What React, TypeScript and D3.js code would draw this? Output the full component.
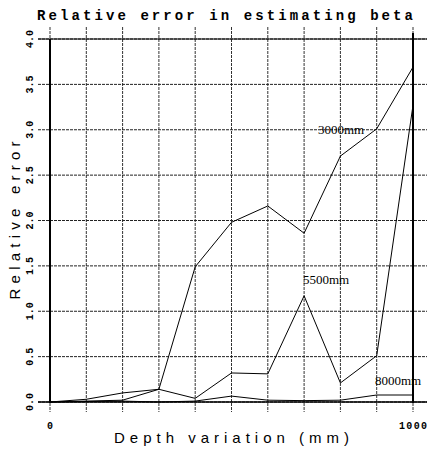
import React from 'react';
import * as d3 from 'd3';

const depths = [0, 100, 200, 300, 400, 500, 600, 700, 800, 900, 1000];
const err3000 = [0, 0.01, 0.02, 0.14, 1.49, 1.98, 2.16, 1.86, 2.71, 3.01, 3.69];
const err5500 = [0, 0.03, 0.1, 0.14, 0.04, 0.32, 0.31, 1.17, 0.21, 0.51, 3.27];
const err8000 = [0, 0.005, 0.01, 0.0, 0.01, 0.065, 0.02, 0.015, 0.02, 0.077, 0.077];
const seriesNames = ['3000mm', '5500mm', '8000mm'];
const yTicks = [0, 0.5, 1, 1.5, 2, 2.5, 3, 3.5, 4];
const yTickLabels = ['0.0', '0.5', '1.0', '1.5', '2.0', '2.5', '3.0', '3.5', '4.0'];
const xTickValues = [0, 1000];
const xTickLabels = ['0', '1000'];
const titleText = 'Relative error in estimating beta';
const xTitle = 'Depth variation (mm)';
const yTitle = 'Relative error';

const W = 427;
const H = 451;
const L = 50, R = 413, T = 39, B = 402;

export default function App() {
  const x = d3.scaleLinear().domain([0, 1000]).range([L, R]);
  const y = d3.scaleLinear().domain([0, 4]).range([B, T]);
  const line = d3
    .line<number>()
    .x((_, i) => x(depths[i]))
    .y((d) => y(d));
  const series = [err3000, err5500, err8000];
  // label anchors in data units
  const labelPos = [
    [738, 2.95],
    [697, 1.3],
    [895, 0.187],
  ];
  const mono = "'Liberation Mono', 'Courier New', monospace";
  const sans = "'Liberation Sans', Arial, sans-serif";
  const serif = "'Liberation Serif', 'Times New Roman', serif";
  return (
    <svg
      width={W}
      height={H}
      style={{ position: 'absolute', left: 0, top: 0, background: '#fff' }}
    >
      <rect x={0} y={0} width={W} height={H} fill="#fff" />
      {/* grid */}
      {depths.map((d) => (
        <line
          key={'vx' + d}
          x1={x(d)}
          x2={x(d)}
          y1={T - 12}
          y2={B + 10}
          stroke="#333"
          strokeWidth={1}
          strokeDasharray="3,1"
        />
      ))}
      {yTicks.map((v) => (
        <line
          key={'hy' + v}
          x1={L - 12}
          x2={W}
          y1={y(v)}
          y2={y(v)}
          stroke="#222"
          strokeWidth={1}
          strokeDasharray="3,1"
        />
      ))}
      {/* frame */}
      <line x1={L - 12} x2={W} y1={T} y2={T} stroke="#000" strokeWidth={1} />
      <line x1={L} x2={L} y1={T} y2={B + 1} stroke="#000" strokeWidth={2} />
      <line x1={R} x2={R} y1={T - 6} y2={B + 1} stroke="#000" strokeWidth={2} />
      <line x1={L - 12} x2={W} y1={B} y2={B} stroke="#000" strokeWidth={1.5} />
      {/* series */}
      {series.map((s, i) => (
        <path key={'s' + i} d={line(s) || ''} fill="none" stroke="#000" strokeWidth={1} />
      ))}
      {seriesNames.map((n, i) => (
        <text
          key={'l' + i}
          x={x(labelPos[i][0])}
          y={y(labelPos[i][1])}
          fontFamily={serif}
          fontSize={13}
          fill="#000"
        >
          {n}
        </text>
      ))}
      {/* title */}
      <text
        x={(37 + 413) / 2}
        y={20}
        textAnchor="middle"
        fontFamily={mono}
        fontWeight="bold"
        fontSize={14}
        textLength={376}
        lengthAdjust="spacing"
      >
        {titleText}
      </text>
      {/* y tick labels */}
      {yTicks.map((v, i) => (
        <text
          key={'yt' + v}
          transform={`translate(33,${y(v)}) rotate(-90)`}
          textAnchor="middle"
          fontFamily={mono}
          fontWeight="bold"
          fontSize={10}
          textLength={18}
          lengthAdjust="spacing"
        >
          {yTickLabels[i]}
        </text>
      ))}
      {/* x tick labels */}
      {xTickValues.map((v, i) => (
        <text
          key={'xt' + v}
          x={x(v)}
          y={429}
          textAnchor="middle"
          fontFamily={mono}
          fontWeight="bold"
          fontSize={10}
          textLength={xTickLabels[i].length > 1 ? 28 : undefined}
          lengthAdjust="spacing"
        >
          {xTickLabels[i]}
        </text>
      ))}
      {/* axis titles */}
      <text
        x={(L + R) / 2}
        y={443}
        textAnchor="middle"
        fontFamily={sans}
        fontSize={15}
        textLength={235}
        lengthAdjust="spacing"
      >
        {xTitle}
      </text>
      <text
        transform={`translate(20,${(T + B) / 2}) rotate(-90)`}
        textAnchor="middle"
        fontFamily={sans}
        fontSize={15}
        textLength={158}
        lengthAdjust="spacing"
      >
        {yTitle}
      </text>
    </svg>
  );
}
